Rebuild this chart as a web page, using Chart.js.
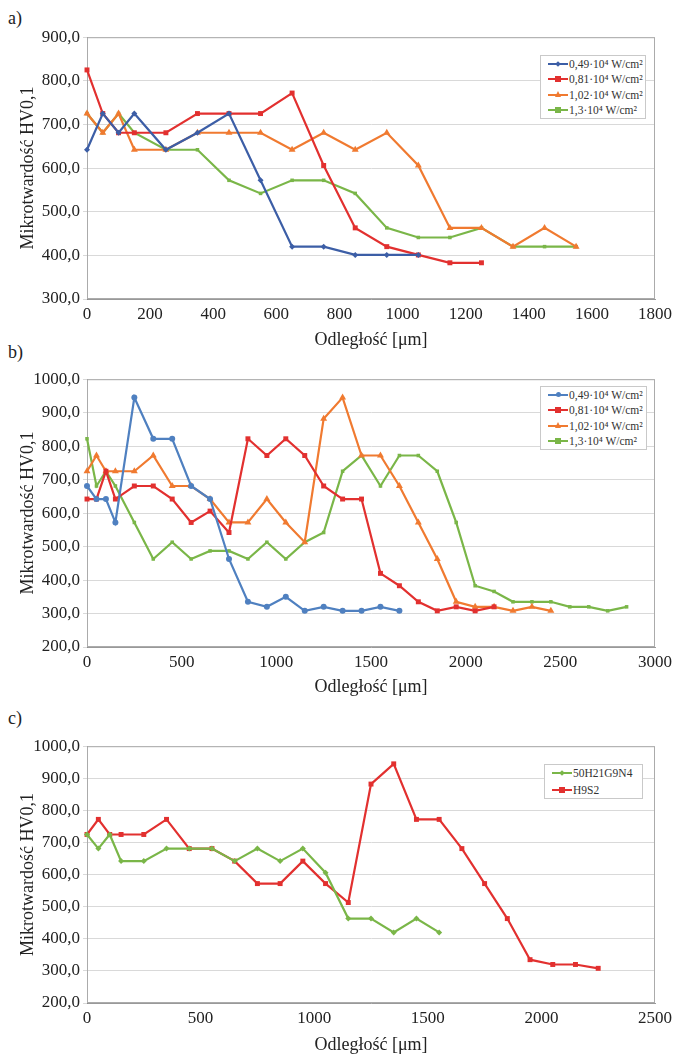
<!DOCTYPE html>
<html>
<head>
<meta charset="utf-8">
<script src="https://cdn.jsdelivr.net/npm/chart.js@4/dist/chart.umd.min.js"></script>
<style>
body{margin:0;width:677px;height:1054px;overflow:hidden;background:#fff;position:relative;font-family:"Liberation Serif",serif;color:#222}
.panel{position:absolute;left:0}
.tag{position:absolute;left:8px;font-size:18px;line-height:18px}
.legend{position:absolute;background:#fff;border:1px solid #c9c9c9;font-size:11.5px;color:#333;box-sizing:border-box;padding-left:7px}
.row{display:flex;align-items:center;white-space:nowrap}
.sample{position:relative;width:20px;height:2px;margin-right:1px;flex:none}
.mk{position:absolute;left:50%;top:50%}
</style>
</head>
<body>
<div class="tag" style="top:9px">a)</div>
<div class="tag" style="top:343px">b)</div>
<div class="tag" style="top:709px">c)</div>

<div class="panel" style="top:24px"><canvas id="chartA" width="677" height="331"></canvas></div>
<div class="panel" style="top:366px"><canvas id="chartB" width="677" height="336"></canvas></div>
<div class="panel" style="top:733px"><canvas id="chartC" width="677" height="327"></canvas></div>

<div class="legend" id="legendA" style="left:540px;top:55px;width:106px"></div>
<div class="legend" id="legendB" style="left:540px;top:386px;width:107px"></div>
<div class="legend" id="legendC" style="left:544px;top:764px;width:99px"></div>

<script>
// distances [µm]
const distA = [0, 50, 100, 150, 250, 350, 450, 550, 650, 750, 850, 950, 1050, 1150, 1250, 1350, 1450, 1550];
const distB = [0, 50, 100, 150, 250, 350, 450, 550, 650, 750, 850, 950, 1050, 1150, 1250, 1350, 1450, 1550,
               1650, 1750, 1850, 1950, 2050, 2150, 2250, 2350, 2450, 2550, 2650, 2750, 2850];
const distC = distB.slice(0, 25);

// a) microhardness HV0,1
const a049 = [642, 725, 681, 725, 642, 681, 725, 572, 420, 420, 401, 401, 401];
const a081 = [825, 725, 681, 681, 681, 725, 725, 725, 772, 606, 463, 420, 401, 383, 383];
const a102 = [725, 681, 725, 642, 642, 681, 681, 681, 642, 681, 642, 681, 606, 463, 463, 420, 463, 420];
const a13  = [725, 681, 725, 681, 642, 642, 572, 542, 572, 572, 542, 463, 441, 441, 463, 420, 420, 420];

// b)
const b049 = [681, 642, 642, 572, 945, 822, 822, 681, 642, 463, 335, 320, 350, 308, 320, 308, 308, 320, 308];
const b081 = [642, 642, 725, 642, 681, 681, 642, 572, 606, 542, 822, 772, 822, 772, 681, 642, 642, 420,
              383, 335, 308, 320, 308, 320];
const b102 = [725, 772, 725, 725, 725, 772, 681, 681, 642, 572, 572, 642, 572, 513, 882, 945, 772, 772,
              681, 572, 463, 335, 320, 320, 308, 320, 308];
const b13  = [822, 681, 725, 681, 572, 463, 513, 463, 487, 487, 463, 513, 463, 513, 542, 725, 772, 681,
              772, 772, 725, 572, 383, 366, 335, 335, 335, 320, 320, 308, 320];

// c)
const c50H = [725, 681, 725, 642, 642, 681, 681, 681, 642, 681, 642, 681, 606, 463, 463, 420, 463, 420];
const cH9S2 = [725, 772, 725, 725, 725, 772, 681, 681, 642, 572, 572, 642, 572, 513, 882, 945, 772, 772,
               681, 572, 463, 335, 320, 320, 308];

const labelsAB = ['0,49·10⁴ W/cm²', '0,81·10⁴ W/cm²', '1,02·10⁴ W/cm²', '1,3·10⁴ W/cm²'];
const labelsC = ['50H21G9N4', 'H9S2'];

const BLUE_A = '#3c5ea6', BLUE_B = '#4f80c0', RED = '#e2302f', ORANGE = '#f07a30', GREEN = '#7ab648';
const FONT = '"Liberation Serif", serif';

function pts(dist, vals) {
    return vals.map((v, i) => ({ x: dist[i], y: v }));
}

// gray frame round the plot area
const frame = {
    id: 'frame',
    beforeDatasetsDraw(chart) {
        const { ctx, chartArea: a } = chart;
        ctx.save();
        ctx.strokeStyle = '#ababab';
        ctx.lineWidth = 1;
        ctx.strokeRect(a.left + 0.5, a.top + 0.5, a.right - a.left - 1, a.bottom - a.top - 1);
        ctx.restore();
    }
};

function makeChart(id, cfg) {
    const datasets = cfg.series.map(s => ({
        label: s.label,
        data: pts(s.dist, s.values),
        borderColor: s.color,
        backgroundColor: s.color,
        borderWidth: 2.2,
        pointStyle: s.style,
        pointRadius: s.radius,
        pointBorderWidth: 0,
        tension: 0,
        clip: false
    }));
    return new Chart(document.getElementById(id), {
        type: 'line',
        data: { datasets },
        plugins: [frame],
        options: {
            responsive: false,
            animation: false,
            layout: { padding: { top: 10, right: 677 - cfg.right, left: 0, bottom: 0 } },
            plugins: { legend: { display: false }, tooltip: { enabled: false } },
            scales: {
                x: {
                    type: 'linear', min: 0, max: cfg.xMax,
                    ticks: { stepSize: cfg.xStep, font: { family: FONT, size: 17 }, color: '#222', padding: 5, maxRotation: 0,
                             callback: v => String(v) },
                    grid: { display: false, drawTicks: false },
                    border: { color: '#999' },
                    title: { display: true, text: 'Odległość [μm]', font: { family: FONT, size: 18 }, color: '#222', padding: { top: 0, bottom: 4 } },
                    afterFit: s => { s.height = cfg.xAxisH; }
                },
                y: {
                    min: cfg.yMin, max: cfg.yMax,
                    ticks: { stepSize: 100, font: { family: FONT, size: 17 }, color: '#222', padding: 3,
                             callback: v => v.toFixed(1).replace('.', ',') },
                    grid: { color: '#d9d9d9', tickLength: 4 },
                    border: { color: '#8c8c8c' },
                    title: { display: true, text: 'Mikrotwardość HV0,1', font: { family: FONT, size: 18 }, color: '#222', padding: { top: 17, bottom: 0 } },
                    afterFit: s => { s.width = 87; }
                }
            }
        }
    });
}

function markerHtml(style, color) {
    if (style === 'rect') return `<div class="mk" style="width:6px;height:6px;margin:-3px 0 0 -3px;background:${color}"></div>`;
    if (style === 'rectRot') return `<div class="mk" style="width:4px;height:4px;margin:-2px 0 0 -2px;background:${color};transform:rotate(45deg)"></div>`;
    if (style === 'circle') return `<div class="mk" style="width:5px;height:5px;margin:-2.5px 0 0 -2.5px;border-radius:50%;background:${color}"></div>`;
    if (style === 'triangle') return `<div class="mk" style="width:0;height:0;margin:-4px 0 0 -3.5px;border-left:3.5px solid transparent;border-right:3.5px solid transparent;border-bottom:6px solid ${color}"></div>`;
    return '';
}

function makeLegend(id, series, rowH) {
    const box = document.getElementById(id);
    box.innerHTML = series.map(s =>
        `<div class="row" style="height:${rowH}px"><div class="sample" style="background:${s.color}">${markerHtml(s.style, s.color)}</div>${s.label}</div>`
    ).join('');
}

const seriesA = [
    { label: labelsAB[0], dist: distA, values: a049, color: BLUE_A, style: 'rectRot', radius: 3 },
    { label: labelsAB[1], dist: distA, values: a081, color: RED, style: 'rect', radius: 3.5 },
    { label: labelsAB[2], dist: distA, values: a102, color: ORANGE, style: 'triangle', radius: 4 },
    { label: labelsAB[3], dist: distA, values: a13, color: GREEN, style: 'rect', radius: 2.5 }
];
const seriesB = [
    { label: labelsAB[0], dist: distB, values: b049, color: BLUE_B, style: 'circle', radius: 3 },
    { label: labelsAB[1], dist: distB, values: b081, color: RED, style: 'rect', radius: 3.5 },
    { label: labelsAB[2], dist: distB, values: b102, color: ORANGE, style: 'triangle', radius: 4 },
    { label: labelsAB[3], dist: distB, values: b13, color: GREEN, style: 'rect', radius: 2.5 }
];
const seriesC = [
    { label: labelsC[0], dist: distC, values: c50H, color: GREEN, style: 'rectRot', radius: 3 },
    { label: labelsC[1], dist: distC, values: cH9S2, color: RED, style: 'rect', radius: 3.5 }
];

makeChart('chartA', { series: seriesA, xMax: 1800, xStep: 200, yMin: 300, yMax: 900, right: 657, xAxisH: 56 });
makeChart('chartB', { series: seriesB, xMax: 3000, xStep: 500, yMin: 200, yMax: 1000, right: 658, xAxisH: 55 });
makeChart('chartC', { series: seriesC, xMax: 2500, xStep: 500, yMin: 200, yMax: 1000, right: 659, xAxisH: 57 });

makeLegend('legendA', seriesA, 15.5);
makeLegend('legendB', seriesB, 15.5);
makeLegend('legendC', seriesC, 16.5);
</script>
</body>
</html>
